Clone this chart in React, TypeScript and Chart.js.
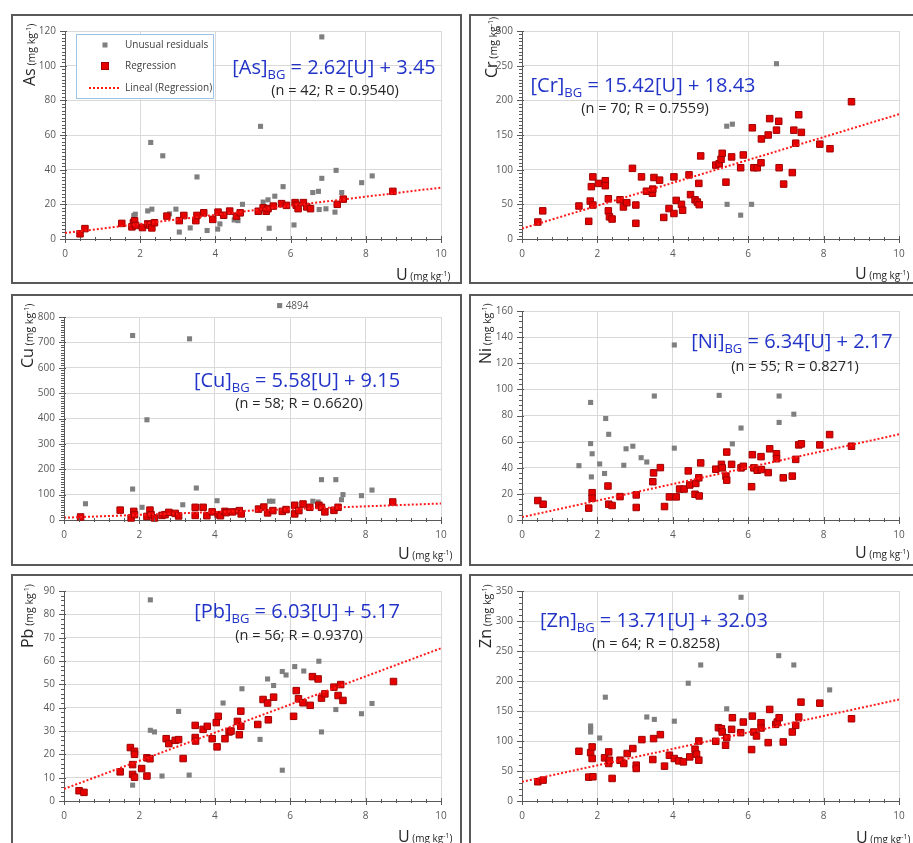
import React, { useEffect, useRef } from "react";
import { Chart, registerables } from "chart.js";
Chart.register(...registerables);

const FONT = '"Open Sans", "DejaVu Sans", sans-serif';
const U_MIN = 0;
const U_MAX = 10;

// ---------- As ----------
const AS_REG = [[0.40,3.0],[0.53,6.0],[1.51,9.0],[1.78,7.0],[1.82,9.4],[1.85,10.5],[1.88,7.8],[2.06,6.6],[2.20,8.7],[2.25,8.0],[2.31,6.4],[2.38,9.4],[2.71,13.2],[3.04,10.6],[3.16,13.6],[3.48,10.6],[3.51,13.6],[3.69,15.1],[3.93,11.3],[4.07,15.5],[4.22,13.7],[4.38,16.1],[4.56,13.2],[4.66,15.1],[5.14,16.0],[5.27,18.0],[5.35,16.0],[5.40,17.5],[5.54,19.0],[5.76,20.4],[5.89,19.4],[6.12,21.0],[6.15,19.5],[6.20,17.5],[6.34,21.0],[6.43,18.5],[6.53,17.5],[7.24,20.0],[7.40,23.0],[8.72,27.5]];
const AS_UNUSUAL = [[1.83,13.5],[1.87,14.3],[2.20,16.2],[2.31,17.2],[2.28,55.7],[2.60,48.0],[2.78,14.5],[2.95,17.2],[3.04,4.0],[3.33,6.4],[3.51,35.8],[3.78,4.9],[4.06,5.7],[4.12,8.7],[4.50,11.0],[4.60,10.6],[4.72,20.0],[5.20,65.0],[5.27,21.3],[5.40,22.6],[5.43,6.2],[5.58,24.7],[5.80,30.2],[6.09,8.1],[6.59,26.8],[6.74,27.5],[6.76,17.0],[6.83,116.6],[6.83,35.0],[6.94,17.4],[7.18,15.5],[7.21,39.6],[7.36,26.8],[7.89,32.5],[8.17,36.4]];
const AS_TREND = [3.45, 29.65];

// ---------- Cr ----------
const CR_REG = [[0.42,24.5],[0.55,40.6],[1.51,47.6],[1.77,25.5],[1.81,54.7],[1.84,75.5],[1.88,89.6],[1.88,49.0],[2.03,80.2],[2.21,84.0],[2.21,76.9],[2.29,58.0],[2.29,40.6],[2.32,32.0],[2.39,28.8],[2.60,56.6],[2.69,46.2],[2.78,52.4],[2.93,101.9],[3.02,49.0],[3.02,22.6],[3.17,89.6],[3.30,68.9],[3.46,66.0],[3.47,72.0],[3.50,88.7],[3.65,84.9],[3.76,31.1],[3.90,43.9],[4.03,36.8],[4.03,89.6],[4.09,55.7],[4.23,50.0],[4.26,41.5],[4.43,92.5],[4.47,64.0],[4.59,56.6],[4.65,53.3],[4.70,49.5],[4.69,80.2],[4.74,119.8],[5.14,106.6],[5.23,108.5],[5.28,115.0],[5.31,123.6],[5.41,82.0],[5.56,118.4],[5.80,102.8],[5.87,121.2],[6.11,160.4],[6.15,102.8],[6.24,102.8],[6.34,110.0],[6.35,144.3],[6.53,150.0],[6.57,173.6],[6.75,157.0],[6.81,169.8],[6.82,102.8],[6.94,79.2],[7.17,95.8],[7.21,157.0],[7.26,138.2],[7.34,179.2],[7.41,153.8],[7.90,136.8],[8.17,130.2],[8.74,198.0]];
const CR_UNUSUAL = [[6.75,252.8],[5.43,162.7],[5.58,165.6],[5.44,50.0],[5.80,34.4],[6.09,50.0]];
const CR_TREND = [15, 180];

// ---------- Cu ----------
const CU_REG = [[0.44,12],[1.49,39],[1.78,8],[1.85,34],[1.87,21],[2.20,14],[2.28,39],[2.31,21],[2.40,8],[2.60,18],[2.68,21],[2.78,30],[2.95,26],[3.04,16],[3.48,50],[3.48,18],[3.69,50],[3.79,17],[3.93,32],[4.09,21],[4.15,17],[4.27,34],[4.30,29],[4.47,32],[4.65,37],[4.70,24],[5.16,43],[5.30,51],[5.40,28],[5.54,37],[5.79,34],[5.89,41],[6.12,58],[6.12,24],[6.23,37],[6.34,63],[6.52,50],[6.76,58],[6.83,50],[6.92,32],[7.16,38],[7.27,50],[8.72,71]];
const CU_UNUSUAL = [[0.57,64],[1.82,727],[1.82,122],[2.07,50],[2.20,395],[3.15,60],[3.33,714],[3.51,126],[4.06,76],[5.45,74],[5.54,74],[6.60,74],[6.74,71],[6.83,159],[7.21,159],[7.36,80],[7.40,100],[7.89,96],[8.17,118]];
const CU_OUTLIER = [5.72, 4894];
const CU_AXIS_CAP = 845; // the off-scale value is shown just above the axis top
const CU_TREND = [9.15, 64.95];

// ---------- Ni ----------
const NI_REG = [[0.42,14.9],[0.56,12.1],[1.77,9.1],[1.86,20.9],[1.86,16.7],[2.28,26.0],[2.30,12.1],[2.39,11.1],[2.60,17.9],[3.03,19.2],[3.03,9.6],[3.47,29.3],[3.49,36.1],[3.67,40.1],[3.78,10.3],[3.91,17.7],[4.09,17.7],[4.18,23.7],[4.30,23.7],[4.45,26.8],[4.61,28.0],[4.69,32.3],[4.41,37.6],[4.59,19.7],[4.70,18.4],[4.74,43.7],[5.14,38.9],[5.29,42.6],[5.31,39.9],[5.41,33.6],[5.43,30.5],[5.43,52.0],[5.56,42.6],[5.81,39.9],[5.87,41.1],[6.09,25.5],[6.11,50.0],[6.15,39.9],[6.24,38.1],[6.34,48.5],[6.35,38.6],[6.53,36.3],[6.57,54.5],[6.75,50.7],[6.75,46.9],[6.93,32.3],[7.17,33.6],[7.26,46.4],[7.34,57.5],[7.41,58.3],[7.90,57.5],[8.16,65.4],[8.74,56.5]];
const NI_UNUSUAL = [[1.51,41.6],[1.82,90.0],[1.82,58.5],[1.86,50.7],[1.84,33.0],[2.06,42.9],[2.19,35.6],[2.22,77.7],[2.30,65.6],[2.70,41.9],[2.76,54.5],[2.94,56.5],[3.16,47.7],[3.31,44.4],[3.51,94.9],[4.04,134.0],[4.04,55.0],[5.23,95.4],[5.58,58.3],[5.81,70.4],[6.82,94.9],[6.82,74.7],[7.21,81.0]];
const NI_TREND = [2.17, 65.57];

// ---------- Pb ----------
const PB_REG = [[0.40,4.4],[0.53,3.7],[1.49,12.5],[1.76,22.9],[1.82,11.4],[1.82,15.6],[1.87,21.3],[1.87,20.0],[1.87,10.2],[2.06,13.9],[2.20,10.7],[2.20,18.5],[2.28,18.1],[2.71,26.7],[2.78,24.6],[2.95,26.0],[3.04,26.3],[3.16,18.2],[3.48,32.4],[3.48,27.2],[3.49,25.7],[3.69,30.7],[3.80,32.0],[3.93,26.7],[4.04,33.6],[4.09,36.3],[4.06,23.2],[4.27,26.7],[4.38,29.6],[4.43,30.0],[4.60,34.1],[4.65,28.4],[4.69,32.0],[4.69,38.5],[5.14,32.8],[5.28,43.5],[5.40,42.0],[5.42,34.8],[5.56,44.5],[6.09,36.3],[6.16,47.3],[6.22,43.8],[6.34,42.1],[6.53,41.0],[6.59,53.3],[6.74,52.3],[6.83,44.1],[6.92,45.9],[7.16,48.8],[7.27,45.2],[7.34,49.9],[7.40,43.1],[8.74,51.2]];
const PB_UNUSUAL = [[1.82,6.8],[2.29,86.2],[2.29,30.3],[2.40,29.6],[2.60,10.7],[3.04,38.4],[3.32,11.1],[4.22,42.0],[4.72,48.1],[5.20,26.4],[5.40,52.3],[5.56,49.5],[5.79,13.2],[5.79,55.5],[5.89,54.0],[6.12,57.6],[6.36,55.7],[6.76,59.9],[6.83,29.6],[7.21,39.2],[7.89,37.4],[8.17,41.8]];
const PB_TREND = [5.17, 65.47];

// ---------- Zn ----------
const ZN_REG = [[0.42,32.1],[0.56,34.8],[1.51,82.9],[1.77,39.8],[1.82,80.7],[1.86,90.1],[1.86,70.8],[1.88,40.4],[2.19,71.9],[2.30,81.8],[2.30,62.5],[2.32,68.0],[2.39,37.6],[2.60,68.0],[2.70,62.5],[2.79,79.1],[2.94,87.4],[3.03,59.7],[3.03,54.2],[3.18,102.3],[3.47,69.1],[3.49,104.0],[3.67,110.6],[3.78,58.1],[3.91,76.3],[4.04,70.8],[4.16,66.9],[4.28,65.2],[4.45,73.5],[4.59,86.3],[4.63,78.0],[4.69,68.0],[4.69,100.0],[5.14,99.5],[5.21,122.2],[5.29,120.5],[5.31,115.0],[5.40,92.9],[5.43,105.6],[5.56,119.4],[5.58,138.8],[5.80,113.9],[5.87,131.6],[6.09,85.7],[6.11,141.5],[6.15,115.0],[6.22,108.4],[6.34,130.5],[6.34,121.6],[6.53,97.3],[6.57,152.6],[6.73,127.7],[6.77,131.6],[6.82,138.8],[6.93,98.4],[7.17,115.0],[7.26,126.1],[7.34,139.9],[7.40,164.8],[7.90,163.1],[8.74,137.1]];
const ZN_UNUSUAL = [[1.82,120.5],[1.82,115.0],[1.82,125.0],[2.06,105.0],[2.21,173.0],[3.31,140.0],[3.51,136.0],[4.04,133.0],[4.41,196.3],[4.74,226.7],[5.43,153.7],[5.81,339.5],[6.81,242.2],[7.21,226.7],[8.16,185.2]];
const ZN_TREND = [32.03, 169.13];

// ---------- text ----------
const LEGEND_LABELS = ["Unusual residuals", "Regression", "Lineal (Regression)"];

type Run = { t: string; s: number; dy?: number };
type PanelDef = {
  el: string;
  reg: number[][];
  unusual: number[][];
  trend: number[];
  yMax: number;
  yStep: number;
  yMinor: number;
  eq: string;
  stats: string;
  box: number[]; // left, top, width, height (page px, border included)
  area: number[]; // left, top, right, bottom (page px)
  eqPos: number[];
  statsPos: number[];
  yTitle: number[];
  xTitle: number[];
  legend?: boolean;
  outlier?: number[];
};

const PANELS: PanelDef[] = [
  { el: "As", reg: AS_REG, unusual: AS_UNUSUAL, trend: AS_TREND, yMax: 120, yStep: 20, yMinor: 2,
    eq: " = 2.62[U] + 3.45", stats: "(n = 42; R = 0.9540)",
    box: [11, 14, 451, 270], area: [65, 27, 441, 239], eqPos: [334, 74], statsPos: [335, 95],
    yTitle: [35, 86], xTitle: [396, 280], legend: true },
  { el: "Cr", reg: CR_REG, unusual: CR_UNUSUAL, trend: CR_TREND, yMax: 300, yStep: 50, yMinor: 5,
    eq: " = 15.42[U] + 18.43", stats: "(n = 70; R = 0.7559)",
    box: [469, 14, 460, 270], area: [522, 27, 899, 239], eqPos: [643, 92], statsPos: [645, 113],
    yTitle: [497, 78], xTitle: [855, 279] },
  { el: "Cu", reg: CU_REG, unusual: CU_UNUSUAL, trend: CU_TREND, yMax: 800, yStep: 100, yMinor: 10,
    eq: " = 5.58[U] + 9.15", stats: "(n = 58; R = 0.6620)",
    box: [11, 294, 451, 272], area: [64, 317, 441, 520], eqPos: [297, 387], statsPos: [299, 408],
    yTitle: [33, 368], xTitle: [398, 559], outlier: CU_OUTLIER },
  { el: "Ni", reg: NI_REG, unusual: NI_UNUSUAL, trend: NI_TREND, yMax: 160, yStep: 20, yMinor: 4,
    eq: " = 6.34[U] + 2.17", stats: "(n = 55; R = 0.8271)",
    box: [469, 294, 460, 272], area: [522, 309, 899, 520], eqPos: [792, 348], statsPos: [795, 371],
    yTitle: [491, 364], xTitle: [855, 558] },
  { el: "Pb", reg: PB_REG, unusual: PB_UNUSUAL, trend: PB_TREND, yMax: 90, yStep: 10, yMinor: 2,
    eq: " = 6.03[U] + 5.17", stats: "(n = 56; R = 0.9370)",
    box: [11, 574, 451, 290], area: [64, 590, 441, 801], eqPos: [297, 618], statsPos: [299, 640],
    yTitle: [33, 648], xTitle: [398, 842] },
  { el: "Zn", reg: ZN_REG, unusual: ZN_UNUSUAL, trend: ZN_TREND, yMax: 350, yStep: 50, yMinor: 10,
    eq: " = 13.71[U] + 32.03", stats: "(n = 64; R = 0.8258)",
    box: [469, 574, 460, 290], area: [522, 590, 899, 801], eqPos: [654, 627], statsPos: [656, 648],
    yTitle: [491, 648], xTitle: [856, 843] },
];

const AXIS = "#595959";
const GRID = "#d9d9d9";
const RED = "#e60000";
const RED_EDGE = "#a00000";
const GRAY = "#7f7f7f";
const TREND = "#ff1a1a";
const BLUE = "#2233c8";
const RED_R = 4.6;
const GRAY_R = 3.6;

function runsWidth(ctx: CanvasRenderingContext2D, runs: Run[]) {
  let w = 0;
  for (const r of runs) {
    ctx.font = `${r.s}px ${FONT}`;
    w += ctx.measureText(r.t).width;
  }
  return w;
}
function drawRuns(ctx: CanvasRenderingContext2D, runs: Run[], x: number, y: number, color: string, center: boolean) {
  let cx = center ? x - runsWidth(ctx, runs) / 2 : x;
  ctx.fillStyle = color;
  ctx.textAlign = "left";
  ctx.textBaseline = "alphabetic";
  for (const r of runs) {
    ctx.font = `${r.s}px ${FONT}`;
    ctx.fillText(r.t, cx, y + (r.dy || 0));
    cx += ctx.measureText(r.t).width;
  }
}

function PanelView({ p }: { p: PanelDef }) {
  const ref = useRef<HTMLCanvasElement>(null);
  const ox = p.box[0] + 2;
  const oy = p.box[1] + 2;
  const cw = p.box[2] - 4;
  const ch = p.box[3] - 4;

  useEffect(() => {
    const aL = p.area[0] - ox;
    const aT = p.area[1] - oy;
    const aR = p.area[2] - ox;
    const aB = p.area[3] - oy;
    const XH = 24;

    const deco = {
      id: "deco" + p.el,
      afterDraw(chart: any) {
        const ctx: CanvasRenderingContext2D = chart.ctx;
        const a = chart.chartArea;
        const xs = chart.scales.x;
        const ys = chart.scales.y;
        ctx.save();
        // tick marks
        ctx.strokeStyle = AXIS;
        ctx.lineWidth = 1;
        ctx.beginPath();
        const nx = Math.round((U_MAX - U_MIN) / 0.4);
        for (let i = 0; i <= nx; i++) {
          const px = Math.round(xs.getPixelForValue(U_MIN + i * 0.4)) + 0.5;
          const major = i % 5 === 0;
          ctx.moveTo(px, a.bottom - (major ? 3 : 2));
          ctx.lineTo(px, a.bottom + (major ? 4 : 2));
        }
        const ny = Math.round(p.yMax / p.yMinor);
        const per = Math.round(p.yStep / p.yMinor);
        for (let i = 0; i <= ny; i++) {
          const py = Math.round(ys.getPixelForValue(i * p.yMinor)) + 0.5;
          const major = i % per === 0;
          ctx.moveTo(a.left - (major ? 5 : 3), py);
          ctx.lineTo(a.left + (major ? 2 : 0), py);
        }
        ctx.stroke();

        // equation and stats
        drawRuns(ctx, [
          { t: `[${p.el}]`, s: 20 },
          { t: "BG", s: 13, dy: 5 },
          { t: p.eq, s: 20 },
        ], p.eqPos[0] - ox, p.eqPos[1] - oy, BLUE, true);
        drawRuns(ctx, [{ t: p.stats, s: 14.5 }], p.statsPos[0] - ox, p.statsPos[1] - oy, "#262626", true);

        // x title
        drawRuns(ctx, [
          { t: "U", s: 16 },
          { t: " (mg kg", s: 10 },
          { t: "-1", s: 7, dy: -4 },
          { t: ")", s: 10 },
        ], p.xTitle[0] - ox, p.xTitle[1] - oy, "#262626", false);

        // y title (rotated)
        ctx.save();
        ctx.translate(p.yTitle[0] - ox, p.yTitle[1] - oy);
        ctx.rotate(-Math.PI / 2);
        drawRuns(ctx, [
          { t: p.el, s: 16 },
          { t: " (mg kg", s: 10.5 },
          { t: "-1", s: 7, dy: -4 },
          { t: ")", s: 10.5 },
        ], 0, 0, "#262626", false);
        ctx.restore();

        // off-scale point, drawn at the axis cap with its real value
        if (p.outlier) {
          const px = xs.getPixelForValue(p.outlier[0]);
          const py = ys.getPixelForValue(Math.min(p.outlier[1], CU_AXIS_CAP));
          const h = GRAY_R * Math.SQRT1_2;
          ctx.fillStyle = GRAY;
          ctx.fillRect(px - h, py - h, 2 * h, 2 * h);
          ctx.font = `10px ${FONT}`;
          ctx.fillStyle = AXIS;
          ctx.textBaseline = "middle";
          ctx.textAlign = "left";
          ctx.fillText(String(p.outlier[1]), px + 6, py + 0.5);
        }

        // legend
        if (p.legend) {
          const L = 76 - ox, T = 34 - oy, R = 213 - ox, B = 98 - oy;
          ctx.fillStyle = "#ffffff";
          ctx.fillRect(L, T, R - L, B - T);
          ctx.strokeStyle = "#9dc3e6";
          ctx.lineWidth = 1;
          ctx.strokeRect(L + 0.5, T + 0.5, R - L, B - T);
          const mx = 105 - ox;
          const tx = 125 - ox;
          const rows = [45 - oy, 66 - oy, 88 - oy];
          ctx.fillStyle = GRAY;
          ctx.fillRect(mx - 2.5, rows[0] - 2.5, 5, 5);
          ctx.fillStyle = RED;
          ctx.fillRect(mx - 3.5, rows[1] - 3.5, 7, 7);
          ctx.strokeStyle = RED_EDGE;
          ctx.strokeRect(mx - 3.5, rows[1] - 3.5, 7, 7);
          ctx.strokeStyle = TREND;
          ctx.lineWidth = 2;
          ctx.setLineDash([2, 2]);
          ctx.beginPath();
          ctx.moveTo(89 - ox, rows[2]);
          ctx.lineTo(120 - ox, rows[2]);
          ctx.stroke();
          ctx.setLineDash([]);
          ctx.fillStyle = "#404040";
          ctx.font = `10px ${FONT}`;
          ctx.textBaseline = "middle";
          ctx.textAlign = "left";
          LEGEND_LABELS.forEach((s, i) => ctx.fillText(s, tx, rows[i]));
        }
        ctx.restore();
      },
    };

    const datasets: any[] = [
      {
        type: "line",
        data: [{ x: U_MIN, y: p.trend[0] }, { x: U_MAX, y: p.trend[1] }],
        borderColor: TREND,
        borderWidth: 2,
        borderDash: [2, 2],
        pointRadius: 0,
        fill: false,
        order: 0,
      },
      {
        type: "scatter",
        data: p.reg.map(([x, y]) => ({ x, y })),
        pointStyle: "rect",
        pointRadius: RED_R,
        backgroundColor: RED,
        borderColor: RED_EDGE,
        borderWidth: 1,
        clip: false,
        order: 1,
      },
      {
        type: "scatter",
        data: p.unusual.map(([x, y]) => ({ x, y })),
        pointStyle: "rect",
        pointRadius: GRAY_R,
        backgroundColor: GRAY,
        borderColor: GRAY,
        borderWidth: 0,
        clip: false,
        order: 2,
      },
    ];

    const tickFont = { family: FONT, size: 10 };
    const chart = new Chart(ref.current as HTMLCanvasElement, {
      type: "scatter",
      data: { datasets },
      options: {
        responsive: false,
        maintainAspectRatio: false,
        animation: false,
        events: [],
        layout: { padding: { left: 0, top: aT, right: cw - aR, bottom: ch - aB - XH } },
        plugins: { legend: { display: false }, tooltip: { enabled: false } },
        scales: {
          x: {
            type: "linear",
            min: U_MIN,
            max: U_MAX,
            afterFit: (s: any) => { s.height = XH; },
            ticks: { stepSize: 2, padding: 9, color: AXIS, font: tickFont, maxRotation: 0, autoSkip: false },
            grid: { color: GRID, drawTicks: false },
            border: { color: AXIS, width: 1 },
          },
          y: {
            type: "linear",
            min: 0,
            max: p.yMax,
            afterFit: (s: any) => { s.width = aL; },
            ticks: { stepSize: p.yStep, padding: 9, color: AXIS, font: tickFont },
            grid: { color: GRID, drawTicks: false },
            border: { color: AXIS, width: 1 },
          },
        },
      } as any,
      plugins: [deco as any],
    });
    return () => chart.destroy();
  }, []);

  return (
    <div
      style={{
        position: "absolute",
        left: p.box[0],
        top: p.box[1],
        width: p.box[2],
        height: p.box[3],
        border: "2px solid #595959",
        boxSizing: "border-box",
        background: "#fff",
      }}
    >
      <canvas ref={ref} width={cw} height={ch} style={{ display: "block", width: cw, height: ch }} />
    </div>
  );
}

export default function App() {
  return (
    <div
      style={{
        position: "absolute",
        left: 0,
        top: 0,
        width: 913,
        height: 843,
        overflow: "hidden",
        background: "#fff",
      }}
    >
      {PANELS.map((p) => (
        <PanelView key={p.el} p={p} />
      ))}
    </div>
  );
}
